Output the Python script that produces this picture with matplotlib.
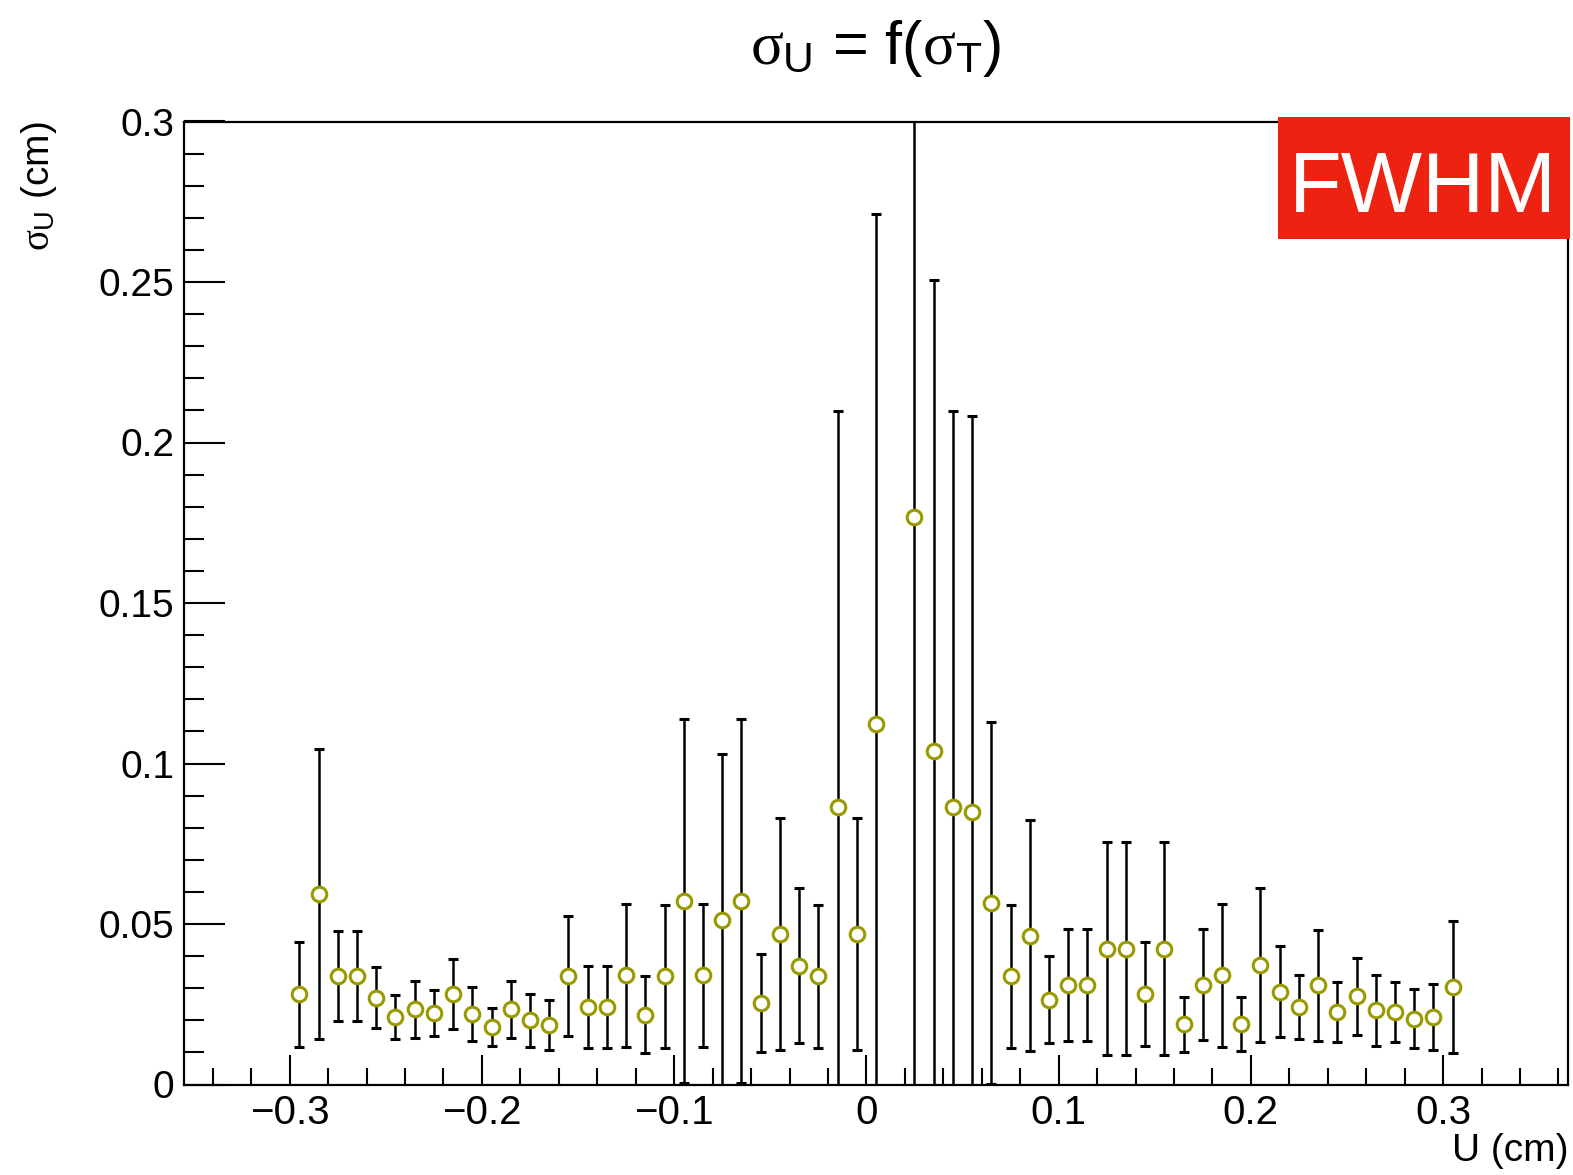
import numpy as np
import matplotlib
matplotlib.use("Agg")
import matplotlib.pyplot as plt
from matplotlib.patches import Rectangle
from matplotlib.ticker import MultipleLocator, FuncFormatter

plt.rcParams['font.family'] = ['Liberation Sans', 'DejaVu Sans']
plt.rcParams['mathtext.fontset'] = 'custom'
plt.rcParams['mathtext.rm'] = 'Liberation Sans'
plt.rcParams['mathtext.it'] = 'Liberation Serif'
plt.rcParams['axes.unicode_minus'] = True

# bin centres in U (cm); the 0.015 bin has no entry
u = [-0.295, -0.285, -0.275, -0.265, -0.255, -0.245, -0.235, -0.225, -0.215, -0.205,
     -0.195, -0.185, -0.175, -0.165, -0.155, -0.145, -0.135, -0.125, -0.115, -0.105,
     -0.095, -0.085, -0.075, -0.065, -0.055, -0.045, -0.035, -0.025, -0.015, -0.005,
     0.005, 0.025, 0.035, 0.045, 0.055, 0.065, 0.075, 0.085, 0.095, 0.105,
     0.115, 0.125, 0.135, 0.145, 0.155, 0.165, 0.175, 0.185, 0.195, 0.205,
     0.215, 0.225, 0.235, 0.245, 0.255, 0.265, 0.275, 0.285, 0.295, 0.305]

sigma_u = [0.0281, 0.0593, 0.0338, 0.0338, 0.0270, 0.0210, 0.0234, 0.0223, 0.0281, 0.0219,
           0.0180, 0.0234, 0.0200, 0.0184, 0.0338, 0.0241, 0.0241, 0.0340, 0.0217, 0.0337,
           0.0571, 0.0340, 0.0513, 0.0571, 0.0254, 0.0469, 0.0370, 0.0337, 0.0864, 0.0469,
           0.1124, 0.1768, 0.1040, 0.0865, 0.0848, 0.0565, 0.0337, 0.0464, 0.0264, 0.0309,
           0.0309, 0.0423, 0.0423, 0.0281, 0.0423, 0.0188, 0.0311, 0.0340, 0.0188, 0.0371,
           0.0289, 0.0242, 0.0309, 0.0225, 0.0275, 0.0231, 0.0225, 0.0205, 0.0210, 0.0304]

sigma_u_err = [0.0163, 0.0451, 0.0140, 0.0140, 0.0095, 0.0069, 0.0089, 0.0071, 0.0109, 0.0085,
               0.0059, 0.0088, 0.0082, 0.0078, 0.0187, 0.0127, 0.0128, 0.0222, 0.0120, 0.0223,
               0.0567, 0.0222, 0.0518, 0.0567, 0.0153, 0.0361, 0.0241, 0.0223, 0.1235, 0.0361,
               0.1588, 0.2000, 0.1465, 0.1234, 0.1234, 0.0564, 0.0222, 0.0360, 0.0135, 0.0175,
               0.0175, 0.0331, 0.0331, 0.0162, 0.0331, 0.0086, 0.0173, 0.0223, 0.0085, 0.0240,
               0.0142, 0.0100, 0.0173, 0.0094, 0.0120, 0.0110, 0.0094, 0.0092, 0.0104, 0.0206]

fig = plt.figure(figsize=(15.73, 11.75), dpi=100)
ax = fig.add_axes([184 / 1573, 1 - 1084.5 / 1175, 1384 / 1573, 963 / 1175])

ax.errorbar(u, sigma_u, yerr=sigma_u_err, fmt='o', color='black', ecolor='black',
            elinewidth=1.8, capsize=3.5, capthick=2.2,
            mfc='white', mec='#999900', mew=2.2, ms=10.5)

ax.set_xlim(-0.355, 0.365)
ax.set_ylim(0, 0.3)

ax.xaxis.set_major_locator(MultipleLocator(0.1))
ax.xaxis.set_minor_locator(MultipleLocator(0.02))
ax.yaxis.set_major_locator(MultipleLocator(0.05))
ax.yaxis.set_minor_locator(MultipleLocator(0.01))
fmt = FuncFormatter(lambda v, p: ('%g' % round(v, 3)).replace('-', '\u2212'))
ax.xaxis.set_major_formatter(fmt)
ax.yaxis.set_major_formatter(fmt)

ax.tick_params(axis='both', which='both', direction='in', width=1.5,
               top=False, right=False)
ax.tick_params(axis='x', which='major', length=21.5, pad=7, labelsize=29)
ax.tick_params(axis='x', which='minor', length=12)
ax.tick_params(axis='y', which='major', length=29.5, pad=7, labelsize=28)
ax.tick_params(axis='y', which='minor', length=14.5)
for s in ax.spines.values():
    s.set_linewidth(1.6)

ax.set_xlabel('U (cm)', fontsize=28, loc='right')
ax.xaxis.set_label_coords(1.0, -0.05)
ax.set_ylabel(r'$\sigma_{\mathrm{U}}$ (cm)', fontsize=28, loc='top')
ax.yaxis.set_label_coords(-0.09, 1.0)

fig.text(876 / 1573, 1 - 64 / 1175, r'$\sigma_{\mathrm{U}}$ = f($\sigma_{\mathrm{T}}$)',
         fontsize=44, ha='center', va='baseline')

# label box over the top right corner of the frame
fig.patches.append(Rectangle((1278 / 1573, 1 - 239 / 1175), 292 / 1573, 122 / 1175,
                             transform=fig.transFigure, facecolor='#ee2210',
                             edgecolor='none', zorder=5))
fig.text(1423 / 1573, 1 - 212 / 1175, 'FWHM', color='white', fontsize=62,
         ha='center', va='baseline', zorder=6)

fig.savefig('out.png', dpi=100)
